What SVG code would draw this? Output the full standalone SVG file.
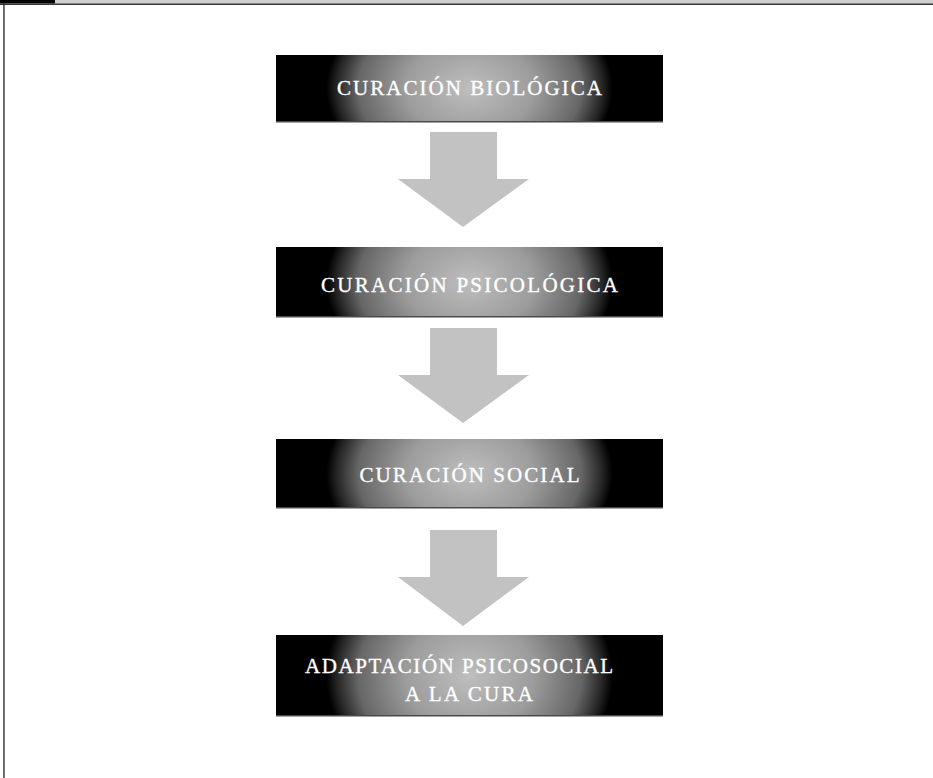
<svg xmlns="http://www.w3.org/2000/svg" width="933" height="778" viewBox="0 0 933 778">
  <defs>
    <radialGradient id="glow" gradientUnits="objectBoundingBox" cx="0.5" cy="0.5" r="0.5" gradientTransform="translate(0.5 0.5) scale(0.74 3) translate(-0.5 -0.5)">
      <stop offset="0" stop-color="#bebebe"/>
      <stop offset="0.45" stop-color="#9c9c9c"/>
      <stop offset="0.78" stop-color="#666666"/>
      <stop offset="0.93" stop-color="#242424"/>
      <stop offset="1" stop-color="#000"/>
    </radialGradient>
  </defs>
  <style>
    .box { fill: url(#glow); }
    .edge { fill: #4a4a4a; }
    .lbl { font-family: "Liberation Serif", "DejaVu Serif", serif; font-size: 21px; fill: #ffffff; stroke: #ffffff; stroke-width: 0.35; text-anchor: middle; }
    .arrow { fill: #c2c2c2; }
  </style>

  <rect width="933" height="778" fill="#ffffff"/>

  <!-- page frame: top rule and left rule -->
  <g id="frame">
    <rect x="0" y="0" width="55" height="3.5" fill="#000"/>
    <rect x="55" y="0" width="878" height="3.5" fill="#cfcfcf"/>
    <rect x="0" y="3.5" width="933" height="1.4" fill="#222"/>
    <rect x="3.3" y="3.5" width="1.3" height="774.5" fill="#222"/>
  </g>

  <g id="connectors">
    <polygon class="arrow" points="430,132 497,132 497,179 529,179 463,227 398,179 430,179"/>
    <polygon class="arrow" points="430,328 497,328 497,375 529,375 463,423 398,375 430,375"/>
    <polygon class="arrow" points="430,530 497,530 497,577 529,577 463,626 398,577 430,577"/>
  </g>

  <g id="node-biologica">
    <rect class="box" x="276" y="55" width="387" height="67"/>
    <rect class="edge" x="276" y="121" width="387" height="1.5"/>
    <text class="lbl" x="469.5" y="95" textLength="265" lengthAdjust="spacing">CURACIÓN BIOLÓGICA</text>
  </g>

  <g id="node-psicologica">
    <rect class="box" x="276" y="247" width="387" height="70"/>
    <rect class="edge" x="276" y="316" width="387" height="1.5"/>
    <text class="lbl" x="469.5" y="292" textLength="297" lengthAdjust="spacing">CURACIÓN PSICOLÓGICA</text>
  </g>

  <g id="node-social">
    <rect class="box" x="276" y="439" width="387" height="69"/>
    <rect class="edge" x="276" y="507" width="387" height="1.5"/>
    <text class="lbl" x="469.5" y="482" textLength="220" lengthAdjust="spacing">CURACIÓN SOCIAL</text>
  </g>

  <g id="node-adaptacion">
    <rect class="box" x="276" y="635" width="387" height="81"/>
    <rect class="edge" x="276" y="715" width="387" height="1.5"/>
    <text class="lbl" x="459" y="673" textLength="308" lengthAdjust="spacing">ADAPTACIÓN PSICOSOCIAL</text>
    <text class="lbl" x="469" y="701" textLength="128" lengthAdjust="spacing">A LA CURA</text>
  </g>
</svg>
